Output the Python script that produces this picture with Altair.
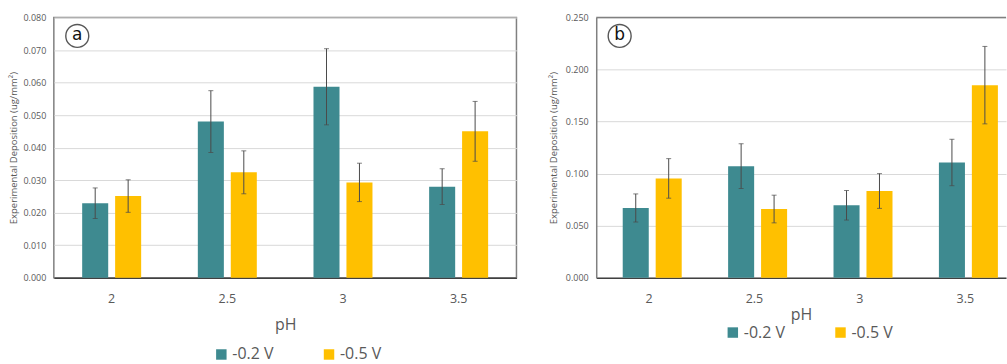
import altair as alt
import pandas as pd

ph = ["2", "2.5", "3", "3.5"]
series = ["-0.2 V", "-0.5 V"]
colors = ["#3E8A90", "#FFC000"]

a_02 = [0.0229, 0.0480, 0.0587, 0.0280]
a_02_err = [0.0047, 0.0095, 0.0117, 0.0055]
a_05 = [0.0251, 0.0324, 0.0293, 0.0450]
a_05_err = [0.0050, 0.0066, 0.0059, 0.0092]

b_02 = [0.0670, 0.1072, 0.0696, 0.1107]
b_02_err = [0.0135, 0.0215, 0.0142, 0.0223]
b_05 = [0.0954, 0.0660, 0.0833, 0.1850]
b_05_err = [0.0190, 0.0133, 0.0167, 0.0372]

a_ticks = [0.0, 0.01, 0.02, 0.03, 0.04, 0.05, 0.06, 0.07, 0.08]
b_ticks = [0.0, 0.05, 0.10, 0.15, 0.20, 0.25]

ytitle = "Experimental Deposition (ug/mm\u00b2)"
FONT = "Open Sans"
GREY = "#595959"
FRAME = "#808080"


def frame(v02, e02, v05, e05):
    rows = []
    for i, p in enumerate(ph):
        rows.append({"pH": p, "series": series[0], "value": v02[i], "err": e02[i]})
        rows.append({"pH": p, "series": series[1], "value": v05[i], "err": e05[i]})
    return pd.DataFrame(rows)


def panel(df, ymax, ticks, width, letter, title_y, legend_x, legend_y, title_x,
          xscale, boxed):
    base = alt.Chart(df).transform_calculate(
        lo="datum.value - datum.err", hi="datum.value + datum.err"
    )
    x = alt.X(
        "pH:N",
        sort=ph,
        scale=xscale,
        axis=alt.Axis(
            title="pH", labelAngle=0, labelFontSize=12.5, labelColor=GREY,
            labelFont=FONT, labelPadding=15, ticks=False, domainColor="#404040",
            domainWidth=1.5, titleFontSize=16, titleFontWeight="normal",
            titleColor=GREY, titleFont=FONT, titleY=title_y, titleBaseline="middle",
            grid=False,
        ),
    )
    xo = alt.XOffset(
        "series:N", sort=series, scale=alt.Scale(paddingInner=0.21, paddingOuter=0)
    )
    yscale = alt.Scale(domain=[0, ymax], nice=False)
    yaxis = alt.Axis(
        title=ytitle, values=ticks, format=".3f", domain=not boxed,
        domainColor=FRAME, domainWidth=1.5, ticks=False, labelOverlap=False,
        labelFontSize=9, labelColor=GREY, labelFont=FONT, labelPadding=8,
        titleFontSize=9.5, titleFontWeight="normal", titleColor=GREY,
        titleFont=FONT, titleX=title_x, titleBaseline="middle",
        gridColor="#D9D9D9", gridWidth=1,
    )
    bars = base.mark_bar().encode(
        x=x, xOffset=xo,
        y=alt.Y("value:Q", scale=yscale, axis=yaxis),
        color=alt.Color(
            "series:N", sort=series,
            scale=alt.Scale(domain=series, range=colors),
            legend=alt.Legend(
                orient="none", legendX=legend_x, legendY=legend_y,
                direction="horizontal", title=None, symbolType="square",
                symbolSize=110, symbolStrokeWidth=0, labelFontSize=16,
                labelColor=GREY, labelFont=FONT, columnPadding=47, labelOffset=3,
            ),
        ),
    )
    rules = base.mark_rule(color="#4a4a4a", strokeWidth=1).encode(
        x=x, xOffset=xo,
        y=alt.Y("lo:Q", scale=yscale, axis=yaxis), y2="hi:Q"
    )
    cap_hi = base.mark_tick(color="#4a4a4a", thickness=1, size=5).encode(
        x=x, xOffset=xo, y=alt.Y("hi:Q", scale=yscale, axis=yaxis)
    )
    cap_lo = base.mark_tick(color="#4a4a4a", thickness=1, size=5).encode(
        x=x, xOffset=xo, y=alt.Y("lo:Q", scale=yscale, axis=yaxis)
    )
    lab = alt.Chart(alt.Data(values=[{"t": letter}]))
    circ = lab.mark_point(
        shape="circle", size=530, filled=False, stroke="#111111", strokeWidth=1.4
    ).encode(x=alt.value(23.5), y=alt.value(18.5))
    txt = lab.mark_text(
        fontSize=17, font="DejaVu Sans", color="#111111", baseline="middle",
        align="center", dy=-1,
    ).encode(x=alt.value(23.5), y=alt.value(18.5), text="t:N")
    layers = [bars, rules, cap_hi, cap_lo, circ, txt]
    if boxed:
        view = alt.ViewBackground(stroke=FRAME, strokeWidth=1.5)
    else:
        top = lab.mark_rule(color=FRAME, strokeWidth=1.5).encode(
            x=alt.value(0), x2=alt.value(width), y=alt.value(0)
        )
        layers.append(top)
        view = alt.ViewBackground(stroke="transparent", strokeWidth=0)
    return alt.layer(*layers).properties(width=width, height=261, view=view)


da = frame(a_02, a_02_err, a_05, a_05_err)
db = frame(b_02, b_02_err, b_05, b_05_err)

xs_a = alt.Scale(paddingInner=0.49, paddingOuter=0.245)
xs_b = alt.Scale(paddingInner=0.5, paddingOuter=0.194, align=0.648)

pa = panel(da, 0.08, a_ticks, 464, "a", 47, 160, 330, -40, xs_a, True)
pb = panel(db, 0.25, b_ticks, 411, "b", 37, 129, 308, -43, xs_b, False)

chart = (
    alt.hconcat(pa, pb, spacing=30)
    .resolve_scale(color="independent", y="independent", x="independent")
    .resolve_legend(color="independent")
    .properties(padding={"left": 8, "top": 12, "right": 0, "bottom": 0},
                background="white")
)

chart.save("out.html", embed_options={"renderer": "svg", "actions": False})
